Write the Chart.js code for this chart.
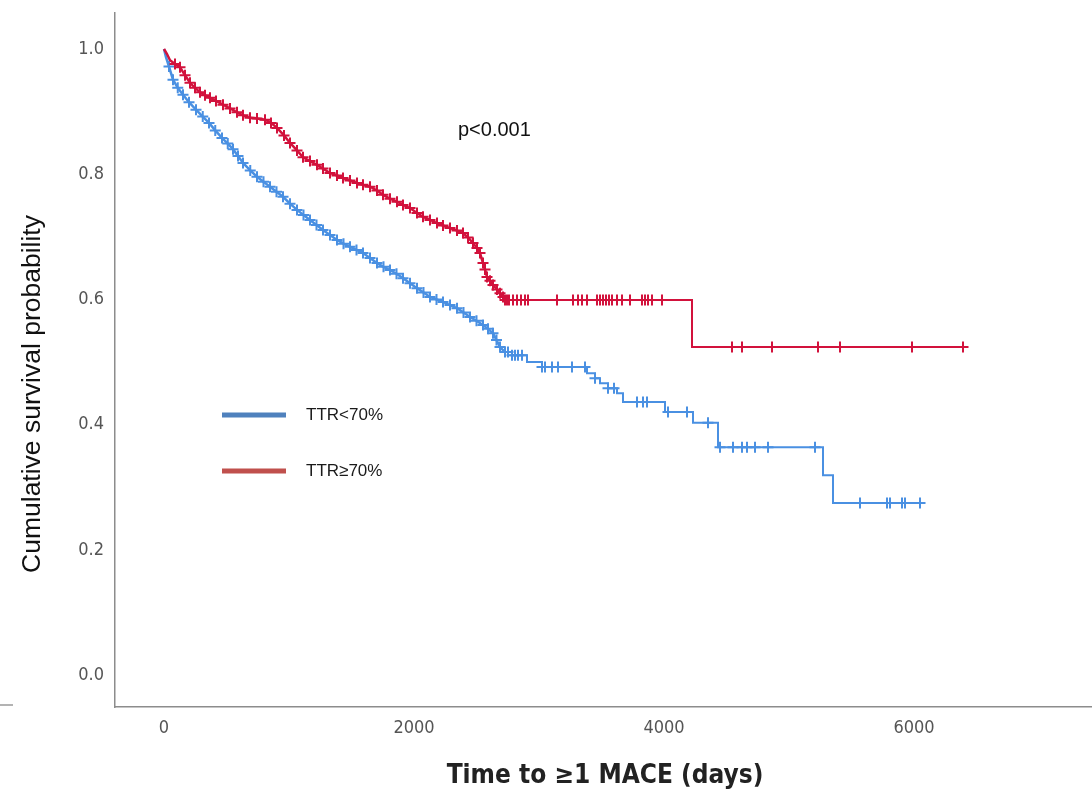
<!DOCTYPE html>
<html lang="en">
<head>
<meta charset="UTF-8">
<title>Cumulative survival by TTR</title>
<script src="https://cdn.jsdelivr.net/npm/chart.js"></script>
<style>
    html, body { margin: 0; padding: 0; background: #fff; }
    #wrap { width: 1092px; height: 795px; }
</style>
</head>
<body>
<div id="wrap"><canvas id="kmChart"></canvas></div>
<script>
// group names (legend order)
const groups = ['TTR<70%', 'TTR\u226570%'];

// TTR<70% : dense early part (read along the band), then stepwise tail
const lowDenseDays = [0, 16, 40, 72, 110, 152, 200, 256, 310, 360, 410, 464, 510, 552, 592, 632, 690, 744, 796, 848, 900, 952, 1008, 1064, 1116, 1168, 1220, 1272, 1328, 1384, 1436, 1488, 1540, 1592, 1648, 1704, 1756, 1808, 1860, 1912, 1968, 2024, 2076, 2128, 2180, 2232, 2288, 2344, 2396, 2448, 2500, 2552, 2592, 2632, 2660, 2688, 2728];
const lowDenseSurv = [1.000, 0.987, 0.972, 0.951, 0.938, 0.927, 0.915, 0.903, 0.892, 0.882, 0.870, 0.858, 0.849, 0.840, 0.829, 0.818, 0.806, 0.796, 0.788, 0.780, 0.772, 0.764, 0.753, 0.743, 0.735, 0.727, 0.719, 0.711, 0.703, 0.695, 0.689, 0.684, 0.679, 0.674, 0.666, 0.658, 0.652, 0.647, 0.641, 0.634, 0.626, 0.618, 0.611, 0.604, 0.600, 0.596, 0.591, 0.586, 0.579, 0.572, 0.566, 0.559, 0.553, 0.546, 0.535, 0.524, 0.516];
const lowTailDays = [2728, 2784, 2904, 3024, 3384, 3448, 3488, 3552, 3624, 3672, 4008, 4232, 4432, 5272, 5352, 6072];
const lowTailSurv = [0.516, 0.511, 0.500, 0.492, 0.482, 0.474, 0.466, 0.458, 0.450, 0.436, 0.420, 0.403, 0.364, 0.319, 0.275, 0.275];
const lowTailCensor = [2752, 2784, 2808, 2832, 2864, 3024, 3048, 3104, 3152, 3264, 3368, 3448, 3552, 3600, 3784, 3832, 3864, 4032, 4184, 4352, 4448, 4552, 4624, 4664, 4728, 4832, 5208, 5568, 5784, 5808, 5904, 5928, 6048];

// TTR>=70%
const highDenseDays = [0, 24, 48, 88, 128, 168, 208, 248, 288, 328, 368, 416, 472, 528, 584, 632, 688, 744, 808, 856, 904, 960, 1008, 1064, 1112, 1168, 1224, 1272, 1328, 1384, 1432, 1488, 1544, 1592, 1648, 1704, 1752, 1808, 1864, 1912, 1968, 2024, 2072, 2128, 2184, 2232, 2288, 2344, 2392, 2432, 2472, 2504, 2528, 2552, 2568, 2584, 2608, 2632, 2664, 2688, 2712, 2728];
const highDenseSurv = [1.000, 0.992, 0.982, 0.976, 0.971, 0.958, 0.946, 0.938, 0.931, 0.926, 0.922, 0.917, 0.911, 0.905, 0.899, 0.894, 0.890, 0.889, 0.887, 0.882, 0.874, 0.862, 0.850, 0.838, 0.827, 0.821, 0.815, 0.809, 0.802, 0.798, 0.794, 0.790, 0.786, 0.783, 0.780, 0.774, 0.767, 0.761, 0.756, 0.751, 0.746, 0.738, 0.732, 0.727, 0.722, 0.718, 0.714, 0.710, 0.706, 0.699, 0.690, 0.682, 0.674, 0.658, 0.648, 0.636, 0.630, 0.623, 0.616, 0.610, 0.604, 0.599];
const highTailDays = [2728, 4224, 6432];
const highTailSurv = [0.599, 0.524, 0.524];
const highTailCensor = [2744, 2760, 2792, 2824, 2856, 2888, 2912, 3144, 3272, 3312, 3344, 3384, 3464, 3488, 3512, 3536, 3560, 3584, 3624, 3664, 3728, 3824, 3848, 3872, 3904, 3984, 4544, 4624, 4864, 5232, 5408, 5984, 6392];

const xTicks = [0, 2000, 4000, 6000];
const yTicks = [0, 0.2, 0.4, 0.6, 0.8, 1.0];
const pValueText = 'p<0.001';
const xTitle = 'Time to \u22651 MACE (days)';
const yTitle = 'Cumulative survival probability';

const lowColor = '#4a90e2';
const highColor = '#d2123c';

function pairs(xs, ys) {
    return xs.map((x, i) => ({ x: x, y: ys[i] }));
}

// value of a KM step curve at time t
function stepAt(xs, ys, t) {
    let v = ys[0];
    for (let i = 0; i < xs.length; i++) {
        if (xs[i] <= t) v = ys[i];
    }
    return v;
}

function censorPoints(denseX, denseY, skip, tailX, tailY, tailCensor) {
    const pts = pairs(denseX, denseY).slice(skip);
    tailCensor.forEach(t => pts.push({ x: t, y: stepAt(tailX, tailY, t) }));
    return pts;
}

const decorations = {
    id: 'decorations',
    afterDraw(chart) {
        const ctx = chart.ctx;
        ctx.save();

        // little stray tick at the left edge
        ctx.strokeStyle = '#9a9a9a';
        ctx.lineWidth = 1.5;
        ctx.beginPath();
        ctx.moveTo(0, 705);
        ctx.lineTo(13, 705);
        ctx.stroke();

        // legend
        ctx.lineWidth = 5;
        ctx.strokeStyle = '#4f81bd';
        ctx.beginPath();
        ctx.moveTo(222, 415);
        ctx.lineTo(286, 415);
        ctx.stroke();
        ctx.strokeStyle = '#c0504d';
        ctx.beginPath();
        ctx.moveTo(222, 471);
        ctx.lineTo(286, 471);
        ctx.stroke();

        ctx.fillStyle = '#1a1a1a';
        ctx.font = '17px "Liberation Sans", Arial, sans-serif';
        ctx.textAlign = 'left';
        ctx.textBaseline = 'middle';
        ctx.fillText(groups[0], 306, 415);
        ctx.fillText(groups[1], 306, 471);

        // p value
        ctx.font = '20px "Liberation Sans", Arial, sans-serif';
        ctx.fillStyle = '#111';
        ctx.fillText(pValueText, 458, 130);

        // x title
        ctx.font = 'bold 26px "DejaVu Sans Condensed", "Liberation Sans Narrow", sans-serif';
        ctx.fillStyle = '#222';
        ctx.textAlign = 'center';
        ctx.fillText(xTitle, 605, 776);

        // y title
        ctx.translate(33, 394);
        ctx.rotate(-Math.PI / 2);
        ctx.font = '26.5px "Liberation Sans", Arial, sans-serif';
        ctx.fillStyle = '#111';
        ctx.fillText(yTitle, 0, 0);

        ctx.restore();
    }
};

const tickFont = { family: '"DejaVu Sans Condensed", "Liberation Sans Narrow", sans-serif', size: 18 };

new Chart(document.getElementById('kmChart'), {
    type: 'line',
    data: {
        datasets: [
            {
                label: groups[1],
                data: pairs(highDenseDays, highDenseSurv),
                borderColor: highColor,
                borderWidth: 2.5,
                pointRadius: 0,
                fill: false
            },
            {
                label: groups[1] + ' tail',
                data: pairs(highTailDays, highTailSurv),
                borderColor: highColor,
                borderWidth: 2,
                stepped: 'before',
                pointRadius: 0,
                fill: false
            },
            {
                label: groups[1] + ' censored',
                data: censorPoints(highDenseDays, highDenseSurv, 3, highTailDays, highTailSurv, highTailCensor),
                showLine: false,
                pointStyle: 'cross',
                pointRadius: 5.5,
                pointBorderWidth: 2,
                pointBorderColor: highColor
            },
            {
                label: groups[0],
                data: pairs(lowDenseDays, lowDenseSurv),
                borderColor: lowColor,
                borderWidth: 2.5,
                pointRadius: 0,
                fill: false
            },
            {
                label: groups[0] + ' tail',
                data: pairs(lowTailDays, lowTailSurv),
                borderColor: lowColor,
                borderWidth: 2,
                stepped: 'before',
                pointRadius: 0,
                fill: false
            },
            {
                label: groups[0] + ' censored',
                data: censorPoints(lowDenseDays, lowDenseSurv, 2, lowTailDays, lowTailSurv, lowTailCensor),
                showLine: false,
                pointStyle: 'cross',
                pointRadius: 5.5,
                pointBorderWidth: 2,
                pointBorderColor: lowColor
            }
        ]
    },
    options: {
        responsive: true,
        maintainAspectRatio: false,
        animation: false,
        layout: { autoPadding: false, padding: { top: 13, right: 0, left: 0, bottom: 0 } },
        plugins: {
            legend: { display: false },
            tooltip: { enabled: false }
        },
        scales: {
            x: {
                type: 'linear',
                min: -392,
                max: 7424,
                afterFit: scale => {
                    scale.height = 88;
                    scale.paddingLeft = 0;
                    scale.paddingRight = 0;
                },
                afterBuildTicks: scale => { scale.ticks = xTicks.map(v => ({ value: v })); },
                grid: { display: false, drawTicks: false },
                border: { display: true, color: '#8c8c8c', width: 1.5 },
                ticks: { color: '#555', font: tickFont, padding: 11, maxRotation: 0, callback: v => String(v) }
            },
            y: {
                type: 'linear',
                min: -0.051,
                max: 1.0575,
                afterFit: scale => {
                    scale.width = 115;
                    scale.paddingTop = 0;
                    scale.paddingBottom = 0;
                },
                afterBuildTicks: scale => { scale.ticks = yTicks.map(v => ({ value: v })); },
                grid: { display: false, drawTicks: false },
                border: { display: true, color: '#8c8c8c', width: 1.5 },
                ticks: { color: '#555', font: tickFont, padding: 11, callback: v => v.toFixed(1) }
            }
        }
    },
    plugins: [decorations]
});
</script>
</body>
</html>
